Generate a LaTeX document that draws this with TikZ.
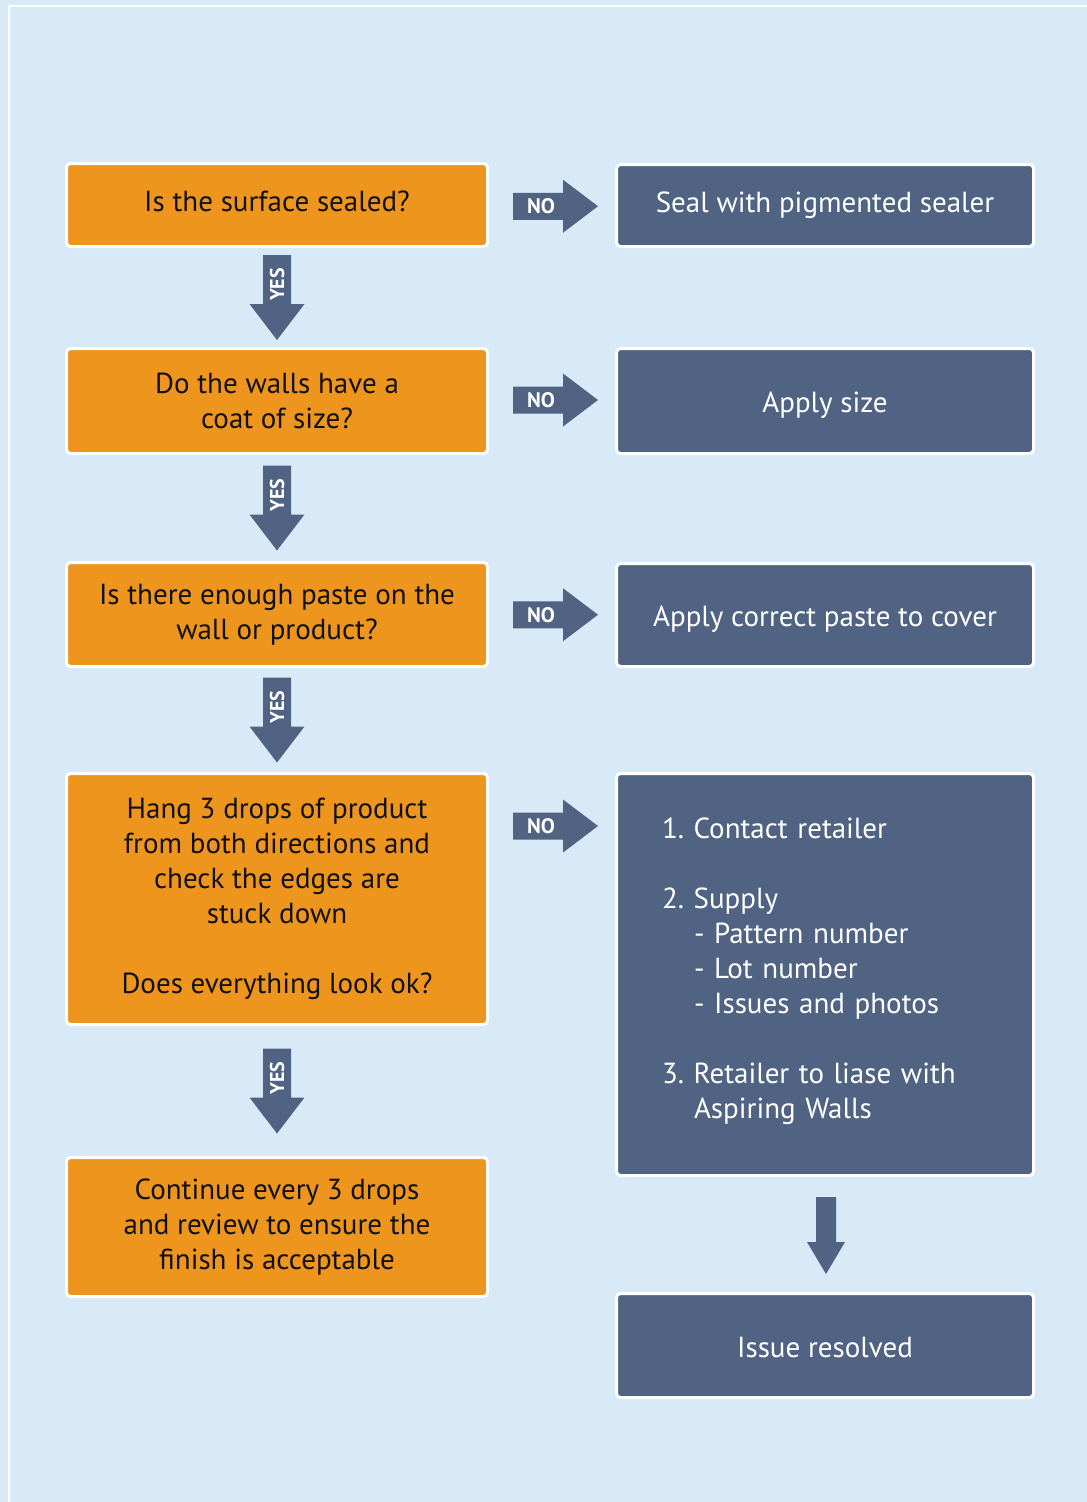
\documentclass[tikz,border=0pt]{standalone}
\usepackage{fontspec}
\setmainfont{PT Sans}
\usetikzlibrary{calc}
\definecolor{bgblue}{RGB}{216,233,247}
\definecolor{orangebox}{RGB}{238,149,30}
\definecolor{slatebox}{RGB}{80,99,130}
\definecolor{darktext}{RGB}{17,17,17}
\frenchspacing
\tikzset{
  basebox/.style={rectangle, draw=white, line width=3pt, rounded corners=4pt,
    minimum width=421pt, inner sep=0pt, align=center,
    font=\fontsize{29}{35}\selectfont},
  qbox/.style={basebox, fill=orangebox, text=darktext},
  abox/.style={basebox, fill=slatebox, text=white},
  yesarrow/.pic={
    \fill[slatebox] (-14,-42.5) -- (14,-42.5) -- (14,6.5) -- (27.5,6.5) -- (0,42.5)
      -- (-27.5,6.5) -- (-14,6.5) -- cycle;
    \node[rotate=90, text=white, font=\fontsize{20}{20}\bfseries\selectfont, inner sep=0pt]
      (-yes) at (0,-13) {YES};
  },
  noarrow/.pic={
    \fill[slatebox] (-42.5,-13.5) -- (7.5,-13.5) -- (7.5,-26.5) -- (42.5,0) -- (7.5,26.5)
      -- (7.5,13.5) -- (-42.5,13.5) -- cycle;
    \node[text=white, font=\fontsize{21}{21}\bfseries\selectfont, inner sep=0pt]
      (-no) at (-14.5,0) {NO};
  },
  plainarrow/.pic={
    \fill[slatebox] (-10,-38.5) -- (10,-38.5) -- (10,6.5) -- (19,6.5) -- (0,38.5)
      -- (-19,6.5) -- (-10,6.5) -- cycle;
  }
}
\begin{document}
\begin{tikzpicture}[x=1pt,y=-1pt]
\fill[bgblue] (0,0) rectangle (1087,1502);
\useasboundingbox (0,0) rectangle (1087,1502);
\coordinate (frameA) at (9,1502);
\coordinate (frameB) at (9,6);
\coordinate (frameC) at (1087,6);
\draw[white, line width=2.5pt] (frameA) -- (frameB) -- (frameC);

% question boxes
\node[qbox, minimum height=83pt] (q1) at (277,205) {Is the surface sealed?\\[-28pt]\mbox{}};
\node[qbox, minimum height=105pt] (q2) at (277,401) {Do the walls have a\\coat of size?};
\node[qbox, minimum height=104pt] (q3) at (277,614.5) {Is there enough paste on the\\wall or product?};
\node[qbox, minimum height=251pt] (q4) at (277,899) {Hang 3 drops of product\\from both directions and\\check the edges are\\stuck down\\[35pt]Does everything look ok?};
\node[qbox, minimum height=139pt] (q5) at (277,1227) {Continue every 3 drops\\and review to ensure the\\finish is acceptable};

% action boxes
\node[abox, minimum width=417pt, minimum height=82pt] (a1) at (825,205.5) {Seal with pigmented sealer\\[-28pt]\mbox{}};
\node[abox, minimum width=417pt, minimum height=105pt] (a2) at (825,401) {\raisebox{-4pt}[\height][\depth]{Apply size}};
\node[abox, minimum width=417pt, minimum height=103pt] (a3) at (825,615) {\raisebox{-4pt}[\height][\depth]{Apply correct paste to cover}};
\node[abox, minimum width=417pt, minimum height=402pt, text width=326pt, align=left] (a4) at (825,974.5)
  {1. Contact retailer\\[35pt]
   2. Supply\\
   \hspace*{32pt}- Pattern number\\
   \hspace*{32pt}- Lot number\\
   \hspace*{32pt}- Issues and photos\\[35pt]
   3. Retailer to liase with\\
   \hspace*{32pt}Aspiring Walls\\[-23pt]\mbox{}};
\node[abox, minimum width=417pt, minimum height=104pt] (a5) at (825,1345.5) {\raisebox{-2pt}[\height][\depth]{Issue resolved}};

% YES arrows
\pic (y1) at ($(q1.south)!0.5!(q2.north)$) {yesarrow};
\pic (y2) at ($(q2.south)!0.5!(q3.north)$) {yesarrow};
\pic (y3) at ($(q3.south)!0.5!(q4.north)$) {yesarrow};
\pic (y4) at ($(q4.south)!0.5!(q5.north)$) {yesarrow};

% NO arrows
\pic (n1) at ($(q1.east)!0.5!(a1.west)+(3.5,1)$) {noarrow};
\pic (n2) at ($(q2.east)!0.5!(a2.west)+(3.5,-1)$) {noarrow};
\pic (n3) at ($(q3.east)!0.5!(a3.west)+(3.5,0)$) {noarrow};
\pic (n4) at ($(q4.north east)!0.5!(a4.north west)+(3.5,54)$) {noarrow};

% final arrow
\pic (f1) at ($(a4.south)!0.5!(a5.north)+(1,1)$) {plainarrow};
\end{tikzpicture}
\end{document}
